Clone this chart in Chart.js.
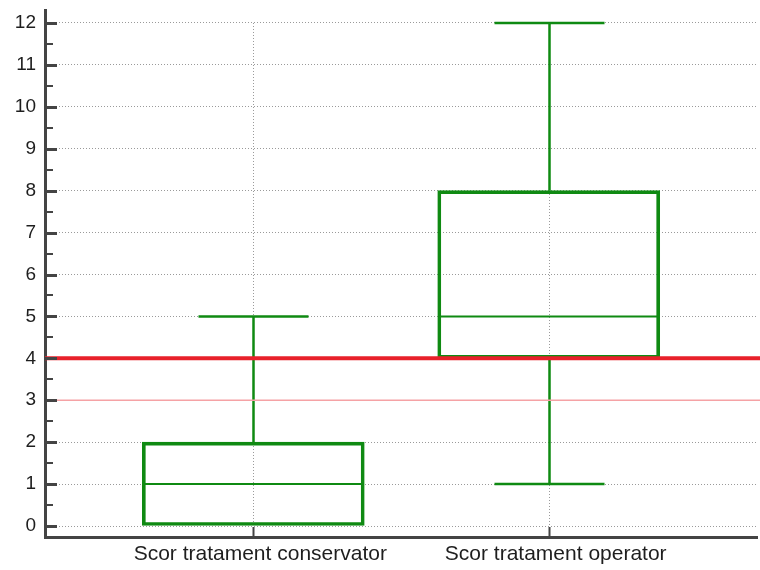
<!DOCTYPE html>
<html>
<head>
<meta charset="utf-8">
<script src="https://cdn.jsdelivr.net/npm/chart.js@4/dist/chart.umd.min.js"></script>
<style>
  html, body { margin: 0; padding: 0; background: #ffffff; }
  #wrap { width: 760px; height: 570px; }
</style>
</head>
<body>
<div id="wrap"><canvas id="c" width="760" height="570"></canvas></div>
<script>
// Box plot summary per group
const categories = ['Scor tratament conservator', 'Scor tratament operator'];
const whiskerLow  = [0, 1];
const quartile1   = [0, 4];
const medians     = [1, 5];
const quartile3   = [2, 8];
const whiskerHigh = [5, 12];

// Axis ticks
const yTicks = [0, 1, 2, 3, 4, 5, 6, 7, 8, 9, 10, 11, 12];
const yMinorTicks = [0.5, 1.5, 2.5, 3.5, 4.5, 5.5, 6.5, 7.5, 8.5, 9.5, 10.5, 11.5];

// Horizontal reference levels
const thresholdLevel = 4;
const secondaryLevel = 3;

const GREEN = '#0f8a12';
const AXIS = '#444444';

// Dotted vertical guides at each group, spanning the tick range
const groupGuides = {
  id: 'groupGuides',
  beforeDatasetsDraw(chart) {
    const { ctx, scales: { x, y }, chartArea } = chart;
    ctx.save();
    ctx.strokeStyle = '#9a9a9a';
    ctx.lineWidth = 1;
    ctx.setLineDash([1, 2]);
    ctx.beginPath();
    categories.forEach((_, i) => {
      const px = Math.round(x.getPixelForValue(i + 1)) + 0.5;
      ctx.moveTo(px, y.getPixelForValue(yTicks[yTicks.length - 1]));
      ctx.lineTo(px, chartArea.bottom);
    });
    ctx.stroke();
    ctx.restore();
  }
};

// Whiskers, caps, medians, reference lines and inward tick marks
const boxExtras = {
  id: 'boxExtras',
  afterDatasetsDraw(chart) {
    const { ctx, scales: { x, y }, chartArea } = chart;
    const capHalf = 55, boxHalf = 109.5;
    ctx.save();
    ctx.strokeStyle = GREEN;
    categories.forEach((_, i) => {
      const cx = Math.round(x.getPixelForValue(i + 1)) + 0.5;
      const yLo = y.getPixelForValue(whiskerLow[i]);
      const yQ1 = y.getPixelForValue(quartile1[i]);
      const yMed = y.getPixelForValue(medians[i]);
      const yQ3 = y.getPixelForValue(quartile3[i]);
      const yHi = y.getPixelForValue(whiskerHigh[i]);
      // whisker stems
      ctx.lineWidth = 2.5;
      ctx.beginPath();
      ctx.moveTo(cx, yQ3); ctx.lineTo(cx, yHi);
      if (whiskerLow[i] < quartile1[i]) { ctx.moveTo(cx, yQ1); ctx.lineTo(cx, yLo); }
      ctx.stroke();
      // caps
      ctx.beginPath();
      ctx.moveTo(cx - capHalf, yHi); ctx.lineTo(cx + capHalf, yHi);
      if (whiskerLow[i] < quartile1[i]) { ctx.moveTo(cx - capHalf, yLo); ctx.lineTo(cx + capHalf, yLo); }
      ctx.stroke();
      // median
      ctx.lineWidth = 2;
      ctx.beginPath();
      ctx.moveTo(cx - boxHalf, yMed); ctx.lineTo(cx + boxHalf, yMed);
      ctx.stroke();
    });

    // reference levels
    const right = chart.width;
    ctx.strokeStyle = '#f5a2a5';
    ctx.lineWidth = 1.5;
    ctx.beginPath();
    ctx.moveTo(chartArea.left, y.getPixelForValue(secondaryLevel));
    ctx.lineTo(right, y.getPixelForValue(secondaryLevel));
    ctx.stroke();
    ctx.strokeStyle = '#e8212b';
    ctx.lineWidth = 4;
    ctx.beginPath();
    ctx.moveTo(chartArea.left, y.getPixelForValue(thresholdLevel));
    ctx.lineTo(right, y.getPixelForValue(thresholdLevel));
    ctx.stroke();

    // inward tick marks on the value axis
    ctx.strokeStyle = AXIS;
    ctx.lineWidth = 3;
    ctx.beginPath();
    yTicks.forEach(v => {
      const py = Math.round(y.getPixelForValue(v)) + 0.5;
      ctx.moveTo(chartArea.left, py); ctx.lineTo(chartArea.left + 12, py);
    });
    ctx.stroke();
    ctx.lineWidth = 2;
    ctx.beginPath();
    yMinorTicks.forEach(v => {
      const py = Math.round(y.getPixelForValue(v));
      ctx.moveTo(chartArea.left, py); ctx.lineTo(chartArea.left + 8, py);
    });
    ctx.stroke();
    // category ticks on the bottom axis
    ctx.lineWidth = 2;
    ctx.beginPath();
    categories.forEach((_, i) => {
      const px = Math.round(x.getPixelForValue(i + 1)) + 0.5;
      ctx.moveTo(px, chartArea.bottom); ctx.lineTo(px, chartArea.bottom - 10);
    });
    ctx.stroke();
    ctx.restore();
  }
};

Chart.defaults.font.family = 'Arial, "Liberation Sans", sans-serif';
Chart.defaults.font.size = 19;
Chart.defaults.color = '#1e1e1e';

new Chart(document.getElementById('c'), {
  type: 'bar',
  data: {
    datasets: [{
      data: categories.map((_, i) => ({ x: i + 1, y: [quartile1[i], quartile3[i]] })),
      backgroundColor: 'rgba(0,0,0,0)',
      borderColor: GREEN,
      borderWidth: 3,
      borderSkipped: false,
      barThickness: 222
    }]
  },
  options: {
    responsive: false,
    devicePixelRatio: 1,
    animation: false,
    layout: { padding: { top: 10, right: 3, left: 0, bottom: 0 } },
    plugins: { legend: { display: false }, tooltip: { enabled: false } },
    scales: {
      x: {
        type: 'linear',
        min: 0.295,
        max: 2.705,
        offset: false,
        afterBuildTicks(scale) { scale.ticks = categories.map((_, i) => ({ value: i + 1 })); },
        afterFit(scale) {
          scale.height = 33;
          scale.paddingLeft = 0; scale.paddingRight = 0;
        },
        ticks: {
          padding: 5,
          labelOffset: 7,
          autoSkip: false,
          maxRotation: 0,
          minRotation: 0,
          font: { size: 21 },
          callback: (v) => categories[Math.round(v) - 1] || ''
        },
        grid: { display: false, drawTicks: false, offset: false },
        border: { display: true, color: AXIS, width: 3 }
      },
      y: {
        type: 'linear',
        min: -0.262,
        max: 12.31,
        afterBuildTicks(scale) { scale.ticks = yTicks.map(v => ({ value: v })); },
        afterFit(scale) {
          scale.width = 45;
          scale.paddingTop = 0; scale.paddingBottom = 0;
        },
        ticks: { padding: 9, callback: (v) => String(v) },
        grid: { color: '#9a9a9a', lineWidth: 1, drawTicks: false },
        border: { display: true, color: AXIS, width: 3, dash: [1, 2] }
      }
    }
  },
  plugins: [groupGuides, boxExtras]
});
</script>
</body>
</html>
